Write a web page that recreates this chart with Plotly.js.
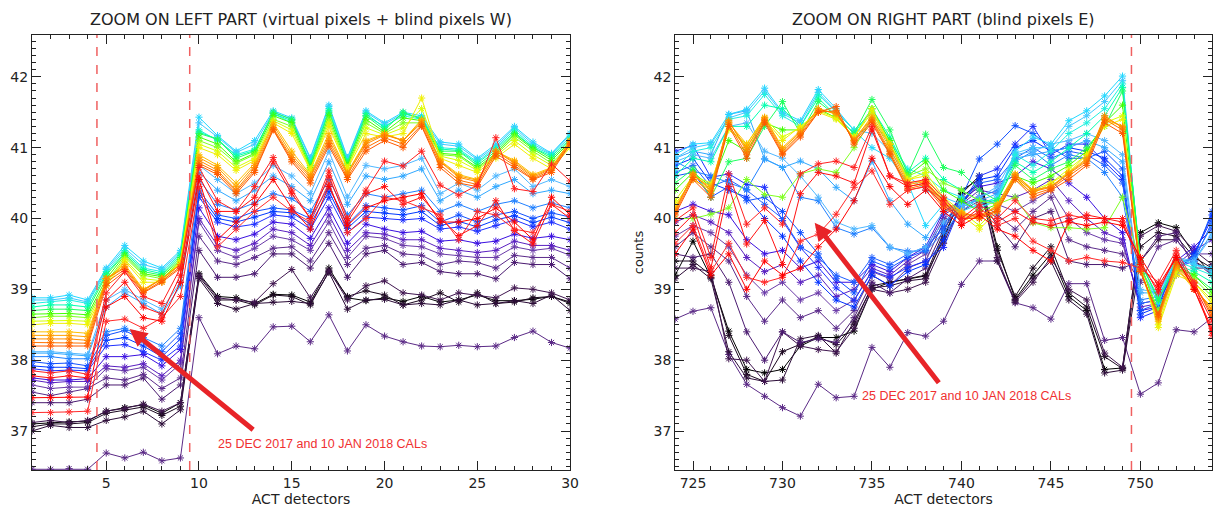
<!DOCTYPE html>
<html><head><meta charset="utf-8">
<script src="https://cdn.plot.ly/plotly-3.0.1.min.js"></script>
<style>html,body{margin:0;padding:0;background:#fff}#chart{width:1213px;height:511px}</style>
</head><body><div id="chart"></div>
<script>
// ---------- DATA ----------
const leftDetectors = [1,2,3,4,5,6,7,8,9,10,11,12,13,14,15,16,17,18,19,20,21,22,23,24,25,26,27,28,29,30];
const rightDetectors = [724,725,726,727,728,729,730,731,732,733,734,735,736,737,738,739,740,741,742,743,744,745,746,747,748,749,750,751,752,753,754];

// Left panel (detectors 1-30)
const L_lowest = [36.46,36.46,36.47,36.46,36.69,36.62,36.70,36.58,36.62,38.60,38.09,38.20,38.16,38.47,38.48,38.26,38.64,38.13,38.50,38.34,38.26,38.20,38.19,38.21,38.19,38.20,38.32,38.41,38.25,38.17];
const L_black1 = [37.10,37.12,37.13,37.14,37.28,37.33,37.37,37.25,37.40,39.22,38.90,38.88,38.80,38.93,38.92,38.82,39.30,38.88,38.84,38.88,38.83,38.90,38.82,38.85,38.92,38.84,38.84,38.86,38.90,38.82];
const L_black2 = [37.06,37.10,37.10,37.12,37.25,37.30,37.34,37.22,37.35,39.18,38.85,38.85,38.78,38.92,38.90,38.78,39.25,38.90,38.98,38.92,38.78,38.85,38.95,38.82,38.95,38.80,38.82,38.88,38.90,38.80];
const L_black3 = [37.00,37.08,37.05,37.05,37.15,37.20,37.28,37.10,37.30,39.15,38.80,38.72,38.80,38.82,38.83,38.80,39.24,38.72,38.85,38.86,38.78,38.80,38.78,38.85,38.78,38.80,38.84,38.80,38.92,38.70];
const L_black4 = [37.12,37.15,37.12,37.15,37.28,37.32,37.38,37.28,37.40,39.20,38.88,38.85,38.82,39.08,39.28,38.88,39.27,38.85,39.05,39.12,38.95,38.92,38.85,38.95,38.92,38.88,39.02,39.00,38.95,38.85];
const L_purple1 = [37.40,37.40,37.40,37.45,37.65,37.65,37.75,37.45,37.65,39.55,39.17,39.17,39.22,39.50,39.50,39.30,39.65,39.17,39.50,39.55,39.35,39.38,39.25,39.22,39.22,39.15,39.38,39.35,39.35,39.15];
const L_purple2 = [37.55,37.50,37.55,37.60,37.75,37.72,37.80,37.60,37.75,39.75,39.40,39.35,39.45,39.58,39.60,39.40,39.80,39.35,39.58,39.62,39.50,39.48,39.35,39.40,39.38,39.30,39.48,39.45,39.45,39.30];
const L_purple3 = [37.65,37.60,37.62,37.62,37.88,37.85,37.90,37.72,37.95,39.95,39.55,39.45,39.58,39.75,39.70,39.55,39.95,39.45,39.75,39.72,39.62,39.60,39.50,39.48,39.45,39.45,39.60,39.55,39.58,39.48];
const L_purple4 = [37.72,37.68,37.70,37.70,37.92,37.90,37.95,37.78,38.00,40.00,39.62,39.55,39.65,39.85,39.80,39.62,40.05,39.55,39.80,39.78,39.70,39.70,39.58,39.55,39.52,39.55,39.68,39.62,39.62,39.55];
const L_violet = [37.75,37.72,37.72,37.74,38.05,38.05,38.08,37.92,38.15,40.15,39.75,39.70,39.78,39.95,39.92,39.72,40.15,39.65,39.92,39.85,39.80,39.82,39.68,39.70,39.65,39.68,39.78,39.72,39.75,39.70];
const L_blue1 = [37.88,37.85,37.86,37.85,38.20,38.22,38.12,38.00,38.20,40.30,39.95,39.88,39.92,40.05,40.02,39.85,40.30,39.80,40.02,40.00,39.98,40.00,39.85,39.88,39.82,39.90,39.98,39.88,39.95,39.85];
const L_blue3 = [37.92,37.90,37.90,37.88,38.28,38.32,38.20,38.05,38.30,40.35,40.00,39.95,40.02,40.10,40.08,39.92,40.38,39.86,40.10,40.08,40.05,40.10,39.90,39.96,39.88,39.98,40.04,39.94,40.02,39.94];
const L_blue2 = [37.98,37.95,37.96,37.92,38.35,38.42,38.28,38.12,38.38,40.40,40.05,40.00,40.10,40.15,40.12,40.00,40.45,39.92,40.18,40.15,40.12,40.18,39.95,40.05,39.95,40.05,40.10,40.00,40.08,40.02];
const L_azure = [38.05,38.05,38.02,38.02,38.40,38.45,38.32,38.20,38.45,40.55,40.20,40.12,40.22,40.35,40.28,40.10,40.55,40.05,40.35,40.30,40.35,40.40,40.10,40.20,40.10,40.20,40.25,40.15,40.22,40.15];
const L_lightblue = [38.10,38.10,38.08,38.06,38.75,38.95,38.80,38.65,39.05,40.65,40.40,40.25,40.40,40.60,40.45,40.25,40.80,40.20,40.60,40.55,40.60,40.70,40.25,40.40,40.30,40.45,40.55,40.35,40.40,40.35];
const L_lightblue2 = [38.12,38.12,38.10,38.08,38.85,39.00,38.85,38.72,39.10,40.75,40.55,40.35,40.50,40.75,40.60,40.35,40.95,40.30,40.75,40.70,40.75,40.85,40.35,40.50,40.40,40.60,40.70,40.45,40.55,40.45];
const L_cyan1 = [38.88,38.88,38.92,38.85,39.30,39.62,39.40,39.30,39.55,41.43,41.17,40.95,41.10,41.52,41.42,40.86,41.60,40.86,41.52,41.35,41.50,41.45,41.08,41.05,40.85,41.05,41.30,41.08,40.92,41.20];
const L_cyan3 = [38.85,38.85,38.88,38.82,39.28,39.58,39.35,39.28,39.52,41.35,41.15,40.93,41.05,41.50,41.40,40.84,41.58,40.84,41.50,41.33,41.48,41.42,41.05,41.02,40.83,41.02,41.28,41.05,40.91,41.18];
const L_cyan2 = [38.80,38.82,38.85,38.80,39.25,39.55,39.30,39.25,39.50,41.25,41.10,40.90,40.98,41.48,41.35,40.80,41.55,40.80,41.45,41.30,41.45,41.40,41.00,40.98,40.80,41.00,41.25,41.02,40.90,41.15];
const L_teal = [38.75,38.78,38.78,38.75,39.22,39.52,39.28,39.22,39.48,41.22,41.12,40.88,40.96,41.48,41.38,40.78,41.52,40.80,41.48,41.28,41.48,41.42,40.98,40.96,40.78,40.98,41.22,41.00,40.88,41.12];
const L_green1 = [38.70,38.72,38.72,38.70,39.20,39.50,39.25,39.20,39.45,41.20,41.12,40.85,40.95,41.50,41.40,40.75,41.50,40.78,41.45,41.25,41.50,41.40,40.95,40.95,40.75,40.95,41.20,41.00,40.85,41.10];
const L_green3 = [38.65,38.66,38.66,38.64,39.15,39.48,39.22,39.18,39.42,41.15,41.05,40.80,40.92,41.45,41.35,40.72,41.45,40.75,41.40,41.22,41.42,41.38,40.92,40.90,40.72,40.92,41.18,40.98,40.82,41.08];
const L_green2 = [38.60,38.62,38.62,38.60,39.10,39.45,39.20,39.15,39.40,41.10,41.00,40.78,40.90,41.40,41.30,40.70,41.40,40.72,41.35,41.20,41.35,41.35,40.90,40.88,40.70,40.90,41.15,40.95,40.78,41.05];
const L_yellow2 = [38.55,38.56,38.56,38.55,39.08,39.42,39.15,39.12,39.40,41.05,40.95,40.72,40.85,41.38,41.25,40.70,41.35,40.72,41.28,41.18,41.28,41.55,40.88,40.82,40.68,40.88,41.10,40.90,40.75,41.02];
const L_yellow = [38.50,38.52,38.52,38.50,39.05,39.40,39.10,39.10,39.38,41.00,40.90,40.68,40.82,41.35,41.20,40.68,41.30,40.70,41.20,41.15,41.20,41.70,40.85,40.75,40.65,40.85,41.05,40.85,40.70,41.00];
const L_orange1 = [38.40,38.40,38.40,38.38,39.15,39.35,39.00,39.15,39.35,40.90,40.75,40.50,40.78,41.35,40.95,40.62,41.20,40.65,41.10,41.20,41.10,41.40,40.82,40.62,40.55,40.95,40.82,40.62,40.72,41.10];
const L_orange4 = [38.35,38.35,38.35,38.33,39.15,39.32,38.99,39.15,39.35,40.86,40.72,40.45,40.75,41.32,40.90,40.60,41.15,40.64,41.08,41.19,41.10,41.38,40.81,40.60,40.54,40.95,40.80,40.60,40.71,41.09];
const L_orange2 = [38.30,38.30,38.30,38.28,39.15,39.30,38.98,39.15,39.35,40.82,40.68,40.40,40.72,41.28,40.86,40.58,41.10,40.62,41.05,41.18,41.10,41.35,40.80,40.58,40.52,40.95,40.78,40.58,40.70,41.08];
const L_orange5 = [38.25,38.25,38.25,38.24,39.10,39.28,38.96,39.12,39.32,40.78,40.65,40.38,40.68,41.26,40.83,40.54,41.06,40.58,41.00,41.14,41.05,41.32,40.76,40.54,40.48,40.92,40.75,40.56,40.68,41.06];
const L_orange3 = [38.20,38.20,38.20,38.20,39.05,39.25,38.95,39.10,39.30,40.75,40.62,40.35,40.65,41.25,40.80,40.50,41.02,40.55,40.95,41.10,41.00,41.30,40.72,40.50,40.45,40.88,40.72,40.55,40.65,41.05];
const L_red1 = [37.85,37.82,37.85,37.80,38.95,39.25,38.90,38.80,39.30,40.72,40.25,40.10,40.45,40.86,40.40,40.00,40.67,40.00,40.40,40.81,40.74,40.95,40.47,40.33,40.47,41.14,40.42,40.38,40.77,40.53];
const L_red2 = [37.78,37.75,37.78,37.75,38.85,39.10,38.75,38.65,39.20,40.60,40.10,40.10,40.30,40.80,40.35,40.00,40.60,39.95,40.35,40.45,40.20,40.30,40.00,39.76,39.90,40.25,39.83,39.64,40.20,40.00];
const L_red3 = [37.26,37.26,37.27,37.28,38.55,38.58,38.45,38.60,38.90,40.45,39.60,39.85,40.10,40.30,40.10,39.95,40.50,39.80,40.00,40.30,40.25,40.15,40.05,39.70,40.10,40.05,39.85,39.80,40.20,40.10];
const L_red4 = [37.47,37.47,37.48,37.48,38.75,38.90,38.60,38.55,39.10,40.55,39.70,39.95,40.20,40.55,40.15,39.85,40.45,39.90,40.15,40.25,40.30,40.35,39.95,39.95,40.00,40.15,39.95,39.70,40.30,40.05];

// Right panel (detectors 724-754)
const R_lowest = [38.58,38.69,38.74,38.08,37.66,37.49,37.33,37.21,37.66,37.47,37.49,38.18,37.90,38.39,38.34,38.55,39.07,39.40,39.40,38.81,38.74,38.58,39.08,39.08,38.28,38.32,37.52,37.68,38.43,38.40,38.60];
const R_black1 = [39.20,39.68,39.17,38.41,37.87,37.82,37.87,38.20,38.32,38.32,38.41,39.00,39.10,39.14,39.19,39.70,40.35,40.60,39.60,38.86,39.20,39.50,38.90,38.70,37.87,37.89,39.80,39.94,39.87,39.50,39.20];
const R_black2 = [39.40,39.40,39.20,38.35,37.80,37.70,38.12,38.22,38.33,38.22,38.50,39.05,39.10,39.15,39.20,39.80,40.40,40.55,39.55,38.90,39.30,39.60,38.95,38.75,38.05,37.88,39.60,39.80,39.75,39.45,39.30];
const R_black3 = [39.15,39.35,39.15,38.12,37.75,37.70,37.72,38.30,38.35,38.10,38.55,39.02,39.05,39.12,39.15,39.75,40.30,40.50,39.40,38.84,39.15,39.40,38.85,38.65,37.82,37.86,39.40,39.70,39.70,39.40,39.25];
const R_black4 = [39.30,39.30,39.25,38.02,38.00,37.70,38.40,38.20,38.15,38.12,38.45,39.00,38.95,39.00,39.10,39.65,40.20,40.50,39.45,38.82,39.10,39.45,39.00,38.85,38.10,37.90,39.75,39.90,39.82,39.55,39.35];
const R_purple1 = [39.50,39.45,39.50,39.10,38.40,38.00,38.40,38.25,38.30,38.25,38.60,39.10,38.95,39.15,39.30,39.85,40.20,40.30,39.90,39.60,40.00,40.10,39.40,39.35,39.35,39.30,39.40,39.75,39.80,39.30,39.30];
const R_purple2 = [39.60,39.80,39.60,39.40,38.90,38.55,38.85,38.60,38.70,38.45,38.70,39.20,39.05,39.30,39.40,39.95,40.10,40.25,40.05,39.85,40.10,40.30,39.70,39.60,39.55,39.50,39.10,39.60,39.70,39.40,39.20];
const R_purple3 = [39.75,39.90,39.80,39.60,39.20,38.95,39.10,38.85,38.95,38.70,38.85,39.25,39.15,39.35,39.50,40.00,40.15,40.30,40.20,40.10,40.25,40.40,40.00,39.80,39.70,39.65,38.80,38.85,39.30,39.50,39.50];
const R_purple4 = [39.95,40.05,39.95,39.80,39.45,39.25,39.35,39.10,39.20,38.90,39.00,39.30,39.20,39.40,39.55,40.05,40.20,40.40,40.35,40.30,40.40,40.55,40.25,40.00,39.80,39.70,38.75,38.80,39.35,39.55,39.70];
const R_violet = [40.10,40.20,40.10,40.05,39.70,39.50,39.55,39.30,39.40,39.10,39.10,39.35,39.25,39.45,39.60,40.10,40.25,40.45,40.50,40.60,40.80,40.70,40.50,40.30,40.00,39.80,38.70,38.75,39.40,39.60,39.85];
const R_blue1 = [40.95,41.03,40.58,40.63,40.48,40.44,39.97,39.59,39.31,39.02,38.84,39.26,39.17,39.31,39.40,39.59,40.20,40.60,40.70,41.05,41.30,40.90,41.05,41.05,40.80,40.55,38.60,38.70,39.20,39.50,40.00];
const R_blue3 = [40.75,40.85,40.50,40.40,40.30,40.00,39.75,39.40,39.10,38.85,38.75,39.20,39.05,39.25,39.35,39.70,40.20,40.55,40.60,41.00,41.10,40.95,41.00,40.95,40.85,40.60,38.65,38.75,39.25,39.50,40.05];
const R_blue2 = [40.60,40.65,40.30,40.45,40.25,40.30,40.10,39.80,39.50,39.15,38.95,39.40,39.30,39.45,39.55,39.90,40.30,40.84,41.05,41.31,41.20,41.00,40.85,40.85,40.95,40.70,38.70,38.80,39.30,39.45,40.10];
const R_blue4 = [40.65,40.75,40.45,40.55,40.40,40.20,40.00,39.60,39.45,39.20,39.10,39.45,39.35,39.50,39.60,39.85,40.25,40.50,40.55,40.85,41.00,40.85,40.95,40.90,40.75,40.50,38.80,38.85,39.30,39.40,39.95];
const R_azure = [40.81,40.67,40.60,40.50,40.41,40.84,40.72,40.30,40.25,39.87,39.78,39.87,39.59,39.54,39.54,39.80,40.10,40.30,40.40,40.80,40.95,40.75,40.90,40.85,40.65,40.30,38.85,38.90,39.35,39.45,39.90];
const R_lightblue = [40.85,40.95,40.90,41.47,41.52,40.84,40.72,40.81,40.70,40.44,40.25,40.81,40.25,39.92,39.73,40.10,40.20,40.25,40.35,40.85,40.90,40.95,41.00,41.10,41.00,40.80,38.95,38.95,39.40,39.40,39.80];
const R_lightblue2 = [40.80,40.90,40.85,41.30,41.35,40.95,40.85,40.60,40.30,39.95,39.85,39.90,39.60,39.50,39.60,39.95,40.15,40.30,40.45,40.90,40.95,41.05,41.10,41.20,41.10,40.90,39.00,38.95,39.45,39.40,39.75];
const R_cyan1 = [40.90,41.05,41.07,41.47,41.54,41.84,41.50,41.38,41.82,41.55,41.24,41.00,40.85,40.50,39.90,40.20,40.10,40.20,40.30,40.95,41.15,41.05,41.38,41.52,41.73,42.01,39.30,38.80,39.45,39.35,39.30];
const R_cyan3 = [40.85,41.00,41.05,41.42,41.50,41.80,41.48,41.35,41.78,41.52,41.25,41.20,40.95,40.60,40.40,40.30,40.20,40.15,40.28,40.92,41.00,41.00,41.30,41.45,41.65,41.95,39.30,38.85,39.45,39.35,39.25];
const R_cyan2 = [40.70,40.95,41.00,41.40,41.45,41.75,41.45,41.30,41.75,41.50,41.25,41.50,41.10,40.70,40.60,40.40,40.30,40.15,40.25,40.90,40.75,40.95,41.20,41.35,41.55,41.90,39.35,38.90,39.40,39.30,39.20];
const R_teal = [40.60,40.85,40.80,41.30,41.30,41.60,41.55,41.30,41.70,41.45,41.20,41.55,41.15,40.65,40.85,40.55,40.40,40.25,40.25,40.80,40.65,40.80,41.00,41.20,41.45,41.85,39.40,38.85,39.35,39.25,39.10];
const R_green1 = [40.50,40.70,40.30,40.80,40.85,41.30,41.65,41.20,41.65,41.45,41.20,41.68,41.25,40.63,41.19,40.72,40.65,40.40,40.25,40.75,40.55,40.70,40.80,41.00,41.30,41.80,39.40,38.85,39.35,39.20,39.00];
const R_green3 = [40.40,40.65,40.45,41.10,40.95,41.35,41.25,41.25,41.55,41.42,41.15,41.55,41.10,40.60,40.80,40.40,40.25,40.10,40.20,40.60,40.50,40.60,40.75,40.95,41.35,41.60,39.35,38.65,39.30,39.20,38.95];
const R_green2 = [40.00,40.00,40.06,40.15,40.55,40.34,40.30,40.63,40.70,40.65,41.00,41.40,41.05,40.60,40.70,40.50,40.40,40.25,40.20,40.30,39.94,39.87,39.87,39.85,39.87,40.30,39.35,38.70,39.30,39.15,38.90];
const R_yellow2 = [40.25,40.60,40.50,41.25,41.05,41.42,41.15,41.28,41.52,41.42,41.15,41.50,41.05,40.55,40.65,40.30,40.10,39.90,40.15,40.58,40.40,40.50,40.70,40.90,41.35,41.45,39.30,38.50,39.25,39.10,38.85];
const R_yellow = [40.20,40.55,40.40,41.30,41.00,41.40,41.10,41.30,41.50,41.40,41.15,41.55,41.05,40.55,40.60,40.25,40.05,39.85,40.10,40.55,40.35,40.50,40.65,40.90,41.30,41.40,39.30,38.46,39.20,39.10,38.80];
const R_orange1 = [40.15,40.60,40.45,41.35,41.05,41.43,41.00,41.24,41.55,41.47,41.10,41.45,41.05,40.51,40.53,40.25,40.10,40.00,40.20,40.63,40.40,40.45,40.65,40.85,41.40,41.30,39.30,38.55,39.30,39.00,38.75];
const R_orange4 = [40.12,40.62,40.42,41.36,41.00,41.42,40.98,41.22,41.55,41.48,41.12,41.42,41.00,40.48,40.52,40.22,40.08,40.02,40.18,40.62,40.40,40.45,40.64,40.83,41.42,41.30,39.28,38.58,39.32,39.02,38.72];
const R_orange2 = [40.10,40.63,40.39,41.38,40.95,41.40,40.95,41.20,41.52,41.50,41.10,41.40,40.95,40.45,40.50,40.20,40.05,40.05,40.15,40.60,40.38,40.44,40.63,40.81,41.45,41.28,39.25,38.60,39.35,39.05,38.70];
const R_orange5 = [40.08,40.58,40.35,41.33,40.90,41.38,40.92,41.18,41.50,41.52,41.08,41.38,40.92,40.42,40.48,40.18,40.02,40.02,40.12,40.58,40.34,40.42,40.60,40.78,41.40,41.25,39.25,38.62,39.38,39.08,38.65];
const R_orange3 = [40.05,40.55,40.30,41.30,40.85,41.35,40.90,41.15,41.50,41.58,41.05,41.35,40.90,40.40,40.45,40.15,40.00,40.00,40.10,40.55,40.30,40.40,40.55,40.75,41.35,41.20,39.25,38.65,39.40,39.10,38.60];
const R_red1 = [39.97,40.15,39.45,40.63,39.92,40.15,39.92,40.63,40.77,40.81,40.72,41.30,40.60,40.50,40.55,40.30,40.00,40.20,40.00,40.25,40.00,39.97,40.05,40.00,40.00,40.00,39.40,38.95,39.50,39.05,38.55];
const R_red2 = [39.80,40.05,39.30,40.45,39.64,39.97,39.35,40.35,40.65,40.60,40.50,41.25,40.60,40.45,40.50,40.25,39.95,40.15,39.95,40.10,39.95,39.90,39.97,40.05,40.00,39.95,39.35,39.00,39.45,39.00,38.45];
const R_red3 = [39.65,39.90,39.25,39.65,39.17,39.10,39.17,39.68,39.78,40.06,40.44,40.67,40.20,40.40,40.45,40.20,39.95,40.10,39.90,40.00,39.68,39.55,39.40,39.45,39.40,39.38,39.30,39.10,39.55,39.10,38.35];
const R_red4 = [39.50,39.85,39.20,39.50,39.00,39.40,39.20,39.30,39.60,39.85,40.25,40.85,40.45,40.20,40.40,40.10,39.90,40.05,39.85,39.75,39.55,39.40,39.95,39.90,39.95,39.90,39.45,39.05,39.45,39.00,38.40];

const leftMarkers = [4.5, 9.5];
const rightMarkers = [749.5];
const calText = "25 DEC 2017 and 10 JAN 2018 CALs";

// ---------- STYLE ----------
const leftSeries = [
  [L_lowest,'#5b2a86'],[L_black1,'#000000'],[L_black2,'#1c0820'],[L_black3,'#2c0c38'],[L_black4,'#401650'],
  [L_purple1,'#4a1a70'],[L_purple2,'#5b2a8a'],[L_purple3,'#6a3aa8'],[L_purple4,'#5a20c0'],[L_violet,'#3a10e0'],
  [L_blue1,'#1e30ff'],[L_blue3,'#0038ff'],[L_blue2,'#1050ff'],[L_azure,'#2080ff'],[L_lightblue,'#30a8ff'],[L_lightblue2,'#50b8ff'],
  [L_cyan1,'#20d8ff'],[L_cyan3,'#40c8ff'],[L_cyan2,'#20f0e0'],[L_teal,'#00ffb0'],[L_green1,'#20ff60'],[L_green3,'#40ff00'],[L_green2,'#80ff20'],
  [L_yellow2,'#d8ff00'],[L_yellow,'#f0f000'],
  [L_orange1,'#ffc000'],[L_orange4,'#ffa000'],[L_orange2,'#ff8c00'],[L_orange5,'#ff7000'],[L_orange3,'#ff5a00'],
  [L_red1,'#ff2020'],[L_red2,'#ff1010'],[L_red3,'#ff2a2a'],[L_red4,'#ff0000']
];
const rightSeries = [
  [R_lowest,'#5b2a86'],[R_black1,'#000000'],[R_black2,'#1c0820'],[R_black3,'#2c0c38'],[R_black4,'#401650'],
  [R_purple1,'#4a1a70'],[R_purple2,'#5b2a8a'],[R_purple3,'#6a3aa8'],[R_purple4,'#5a20c0'],[R_violet,'#3a10e0'],
  [R_blue1,'#1e30ff'],[R_blue3,'#0030ff'],[R_blue2,'#1050ff'],[R_blue4,'#2060ff'],[R_azure,'#2080ff'],[R_lightblue,'#30a8ff'],[R_lightblue2,'#50b8ff'],
  [R_cyan1,'#20d8ff'],[R_cyan3,'#40c8ff'],[R_cyan2,'#20f0e0'],[R_teal,'#00ffb0'],[R_green1,'#20ff60'],[R_green3,'#40ff00'],[R_green2,'#80ff20'],
  [R_yellow2,'#d8ff00'],[R_yellow,'#f0f000'],
  [R_orange1,'#ffc000'],[R_orange4,'#ffa000'],[R_orange2,'#ff8c00'],[R_orange5,'#ff7000'],[R_orange3,'#ff5a00'],
  [R_red1,'#ff2020'],[R_red2,'#ff1010'],[R_red3,'#ff2a2a'],[R_red4,'#ff0000']
];

function mk(xs, ys, color, xa, ya){
  return {x:xs, y:ys, xaxis:xa, yaxis:ya, type:'scatter', mode:'lines+markers', showlegend:false,
    line:{color:color, width:1},
    marker:{symbol:'asterisk-open', size:6, color:color, line:{color:color, width:1}},
    hoverinfo:'skip'};
}
const traces = [];
leftSeries.forEach(s => traces.push(mk(leftDetectors, s[0], s[1], 'x', 'y')));
rightSeries.forEach(s => traces.push(mk(rightDetectors, s[0], s[1], 'x2', 'y2')));

const FONT = 'DejaVu Sans, sans-serif';
const axisCommon = {
  showline:true, linecolor:'#222', linewidth:1, mirror:'ticks',
  ticks:'inside', ticklen:9, tickcolor:'#222', tickwidth:1,
  showgrid:false, zeroline:false,
  tickfont:{family:FONT, size:14, color:'#222'}
};
const yRange = [36.45, 42.59];
const layout = {
  width:1213, height:511,
  margin:{l:32, r:1, t:35, b:41},
  paper_bgcolor:'#fff', plot_bgcolor:'#fff',
  xaxis: Object.assign({}, axisCommon, {domain:[0,0.456], range:[1,30], anchor:'y',
    tickvals:[5,10,15,20,25,30], minor:{dtick:1, tick0:0, ticks:'inside', ticklen:4, tickcolor:'#222'},
    title:{text:'ACT detectors', font:{family:FONT, size:14, color:'#222'}, standoff:2}}),
  yaxis: Object.assign({}, axisCommon, {domain:[0,1], range:yRange, anchor:'x',
    tickvals:[37,38,39,40,41,42], minor:{dtick:0.1, tick0:0, ticks:'inside', ticklen:4, tickcolor:'#222'}}),
  xaxis2: Object.assign({}, axisCommon, {domain:[0.545,1], range:[724,754], anchor:'y2',
    tickvals:[725,730,735,740,745,750], minor:{dtick:1, tick0:0, ticks:'inside', ticklen:4, tickcolor:'#222'},
    title:{text:'ACT detectors', font:{family:FONT, size:14, color:'#222'}, standoff:2}}),
  yaxis2: Object.assign({}, axisCommon, {domain:[0,1], range:yRange, anchor:'x2',
    tickvals:[37,38,39,40,41,42], minor:{dtick:0.1, tick0:0, ticks:'inside', ticklen:4, tickcolor:'#222'},
    title:{text:'counts', font:{family:FONT, size:13, color:'#222'}, standoff:6}}),
  shapes: [],
  annotations: [
    {xref:'x domain', yref:'paper', x:0.5, y:1.035, yanchor:'middle', showarrow:false,
     text:'ZOOM ON LEFT PART (virtual pixels + blind pixels W)', font:{family:FONT, size:16, color:'#222'}},
    {xref:'x2 domain', yref:'paper', x:0.5, y:1.035, yanchor:'middle', showarrow:false,
     text:'ZOOM ON RIGHT PART (blind pixels E)', font:{family:FONT, size:16, color:'#222'}},
    {xref:'x', yref:'y', x:6.26, y:38.44, axref:'x', ayref:'y', ax:13.0, ay:37.0, text:'',
     showarrow:true, arrowhead:2, arrowsize:0.7, arrowwidth:5, arrowcolor:'#e82428', standoff:0},
    {xref:'x', yref:'y', x:16.66, y:36.82, showarrow:false, text:calText,
     font:{family:'Liberation Sans, sans-serif', size:12.5, color:'#f03030'}},
    {xref:'x2', yref:'y2', x:731.8, y:39.94, axref:'x2', ayref:'y2', ax:738.8, ay:37.66, text:'',
     showarrow:true, arrowhead:2, arrowsize:0.7, arrowwidth:5, arrowcolor:'#e82428', standoff:0},
    {xref:'x2', yref:'y2', x:740.3, y:37.49, showarrow:false, text:calText,
     font:{family:'Liberation Sans, sans-serif', size:12.5, color:'#f03030'}}
  ]
};
leftMarkers.forEach(v => layout.shapes.push({type:'line', xref:'x', yref:'y domain', x0:v, x1:v, y0:0, y1:1,
  line:{color:'#f06060', width:1.5, dash:'dash'}}));
rightMarkers.forEach(v => layout.shapes.push({type:'line', xref:'x2', yref:'y2 domain', x0:v, x1:v, y0:0, y1:1,
  line:{color:'#f06060', width:1.5, dash:'dash'}}));

Plotly.newPlot('chart', traces, layout, {displayModeBar:false, staticPlot:true});
</script>
</body></html>
